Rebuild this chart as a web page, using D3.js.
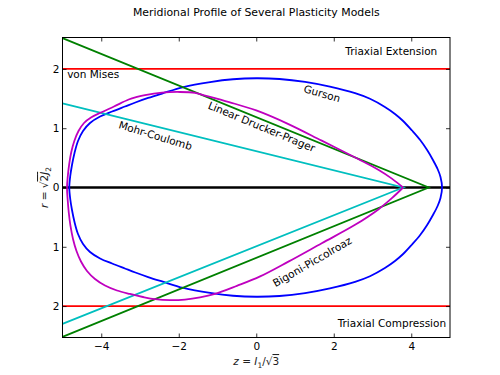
<!DOCTYPE html>
<html>
<head>
<meta charset="utf-8">
<script src="https://cdn.jsdelivr.net/npm/d3@7"></script>
<style>
  html, body { margin: 0; padding: 0; background: #fff; }
  svg { display: block; }
  text { font-family: "DejaVu Sans", sans-serif; }
</style>
</head>
<body>
<script>
// ---------------- data ----------------
const title = "Meridional Profile of Several Plasticity Models";
const xTicks = [-4, -2, 0, 2, 4];
const yTicks = [-2, -1, 0, 1, 2];
const xDomain = [-5, 5];
const yDomain = [-2.53, 2.53];

// Gurson (symmetric about r = 0): upper half, left to right
const gursonZ = [-4.825, -4.80, -4.755, -4.69, -4.60, -4.47, -4.29, -4.03, -3.72, -3.39, -3.12, -2.79, -2.43, -1.88, -1.19, -0.6, 0, 0.6, 1.26, 1.9, 2.55, 2.935, 3.32, 3.58, 3.79, 4.02, 4.23, 4.41, 4.56, 4.68, 4.755, 4.795];
const gursonR = [0, 0.194, 0.38, 0.582, 0.784, 0.953, 1.088, 1.197, 1.282, 1.366, 1.434, 1.51, 1.585, 1.695, 1.779, 1.826, 1.843, 1.83, 1.78, 1.70, 1.59, 1.496, 1.358, 1.24, 1.122, 0.961, 0.801, 0.632, 0.464, 0.312, 0.177, 0];

// Bigoni-Piccolroaz: extension (upper) and compression (lower) branches, left to right
const bpUpperZ = [-4.884, -4.863, -4.827, -4.773, -4.695, -4.587, -4.445, -4.265, -4.006, -3.671, -3.292, -3.077, -2.871, -2.432, -1.968, -1.581, -1.37, -0.7, 0, 0.83, 1.69, 2.63, 3.15, 3.5, 3.79];
const bpUpperR = [0, 0.194, 0.396, 0.599, 0.784, 0.953, 1.088, 1.181, 1.265, 1.366, 1.484, 1.528, 1.560, 1.601, 1.611, 1.597, 1.56, 1.44, 1.30, 1.07, 0.79, 0.48, 0.30, 0.15, 0];
const bpLowerZ = [-4.884, -4.866, -4.837, -4.794, -4.729, -4.639, -4.523, -4.368, -4.161, -3.903, -3.594, -3.258, -2.923, -2.613, -2.226, -1.839, -1.452, -1.065, -0.5, 0.1, 0.83, 1.69, 2.55, 3.15, 3.5, 3.79];
const bpLowerR = [0, -0.211, -0.430, -0.649, -0.868, -1.071, -1.248, -1.408, -1.543, -1.653, -1.737, -1.796, -1.847, -1.884, -1.901, -1.891, -1.855, -1.796, -1.66, -1.50, -1.25, -0.94, -0.63, -0.37, -0.18, 0];

// Linear Drucker-Prager
const dpZ = [-5, 4.45, -5];
const dpR = [2.52, 0, -2.52];
// Mohr-Coulomb
const mcZ = [-5, 3.79, -5];
const mcR = [1.42, 0, -2.30];
// von Mises
const vmR = [2, -2];

// annotations (data coordinates)
const annoText = ["Triaxial Extension", "Triaxial Compression", "von Mises", "Gurson", "Linear Drucker-Prager", "Mohr-Coulomb", "Bigoni-Piccolroaz"];
const annoZ = [4.67, 4.90, -4.88, 1.70, 0.14, -2.6, 1.44];
const annoR = [2.23, -2.35, 1.84, 1.59, 1.03, 0.88, -1.25];

// ---------------- layout ----------------
const W = 500, H = 375;
const m = { left: 62.5, right: 50, top: 37.5, bottom: 37.5 };
const svg = d3.select("body").append("svg").attr("width", W).attr("height", H);

const x = d3.scaleLinear().domain(xDomain).range([m.left, W - m.right]);
const y = d3.scaleLinear().domain(yDomain).range([H - m.bottom, m.top]);

svg.append("defs").append("clipPath").attr("id", "clip")
  .append("rect").attr("x", m.left).attr("y", m.top)
  .attr("width", W - m.left - m.right).attr("height", H - m.top - m.bottom);

const plot = svg.append("g").attr("clip-path", "url(#clip)");
const line = d3.line().x(d => x(d[0])).y(d => y(d[1]));
const closedSmooth = d3.line().x(d => x(d[0])).y(d => y(d[1])).curve(d3.curveCatmullRomClosed.alpha(0.5));
const openSmooth = d3.line().x(d => x(d[0])).y(d => y(d[1])).curve(d3.curveCatmullRom.alpha(0.5));
const lw = 1.8;

// hydrostatic axis
plot.append("path").attr("d", line([[xDomain[0], 0], [xDomain[1], 0]]))
  .attr("stroke", "#000").attr("stroke-width", 2.6).attr("fill", "none");

// von Mises
vmR.forEach(r => {
  plot.append("path").attr("d", line([[xDomain[0], r], [xDomain[1], r]]))
    .attr("stroke", "#ff0000").attr("stroke-width", lw).attr("fill", "none");
});

// Gurson closed curve: upper left->right, lower right->left (ends shared)
const gUp = gursonZ.map((z, i) => [z, gursonR[i]]);
const gDown = gursonZ.map((z, i) => [z, -gursonR[i]]).slice(1, -1).reverse();
plot.append("path").attr("d", closedSmooth(gUp.concat(gDown)))
  .attr("stroke", "#0000ff").attr("stroke-width", lw).attr("fill", "none");

// Drucker-Prager
plot.append("path").attr("d", line(dpZ.map((z, i) => [z, dpR[i]])))
  .attr("stroke", "#008000").attr("stroke-width", lw).attr("fill", "none");

// Mohr-Coulomb
plot.append("path").attr("d", line(mcZ.map((z, i) => [z, mcR[i]])))
  .attr("stroke", "#00bfbf").attr("stroke-width", lw).attr("fill", "none");

// Bigoni-Piccolroaz: apex -> upper branch (leftwards) -> left tip -> lower branch -> apex
const bpUp = bpUpperZ.map((z, i) => [z, bpUpperR[i]]).reverse();
const bpDown = bpLowerZ.map((z, i) => [z, bpLowerR[i]]).slice(1);
plot.append("path").attr("d", openSmooth(bpUp.concat(bpDown)))
  .attr("stroke", "#bf00bf").attr("stroke-width", lw).attr("fill", "none");

// ---------------- axes ----------------
const fmtX = d => (d < 0 ? "\u2212" : "") + Math.abs(d);
const fmtY = d => String(Math.abs(d));
const tk = 4;
const gx = svg.append("g").attr("transform", `translate(0,${H - m.bottom})`)
  .call(d3.axisBottom(x).tickValues(xTicks).tickSize(-tk).tickPadding(5).tickFormat(fmtX));
const gxt = svg.append("g").attr("transform", `translate(0,${m.top})`)
  .call(d3.axisTop(x).tickValues(xTicks).tickSize(-tk).tickFormat(""));
const gy = svg.append("g").attr("transform", `translate(${m.left},0)`)
  .call(d3.axisLeft(y).tickValues(yTicks).tickSize(-tk).tickPadding(3).tickFormat(fmtY));
const gyr = svg.append("g").attr("transform", `translate(${W - m.right},0)`)
  .call(d3.axisRight(y).tickValues(yTicks).tickSize(-tk).tickFormat(""));
[gx, gxt, gy, gyr].forEach(g => {
  g.select(".domain").remove();
  g.selectAll(".tick line").attr("stroke", "#000").attr("stroke-width", 0.8);
  g.selectAll(".tick text").attr("font-family", "DejaVu Sans").attr("font-size", 10.5).attr("fill", "#000");
});

// frame
svg.append("rect").attr("x", m.left).attr("y", m.top)
  .attr("width", W - m.left - m.right).attr("height", H - m.top - m.bottom)
  .attr("fill", "none").attr("stroke", "#000").attr("stroke-width", 1);

// title
svg.append("text").attr("x", (m.left + W - m.right) / 2).attr("y", 15.5)
  .attr("text-anchor", "middle").attr("font-size", 10.9).text(title);

// annotations
const anchors = ["end", "end", "start", "middle", "middle", "middle", "middle"];
const rot = [0, 0, 0, 16, 22.5, 17, -30];
annoText.forEach((t, i) => {
  const px = x(annoZ[i]), py = y(annoR[i]);
  svg.append("text")
    .attr("transform", `translate(${px},${py}) rotate(${rot[i]})`)
    .attr("text-anchor", anchors[i])
    .attr("dominant-baseline", rot[i] === 0 ? "auto" : "central")
    .attr("font-size", 10.5).attr("fill", "#000").text(t);
});

// axis labels (math style)
const xl = svg.append("text").attr("x", x(0)).attr("y", 365)
  .attr("text-anchor", "middle").attr("font-family", "DejaVu Serif").attr("font-size", 10.5).attr("fill", "#222");
xl.append("tspan").attr("font-style", "italic").text("z");
xl.append("tspan").text(" = ");
xl.append("tspan").attr("font-style", "italic").text("I");
xl.append("tspan").attr("font-size", 7.5).attr("dy", 2.5).text("1");
xl.append("tspan").attr("dy", -2.5).text("/\u221A");
xl.append("tspan").attr("text-decoration", "overline").text("3");

const yl = svg.append("text").attr("transform", `translate(48,${y(0)}) rotate(-90)`)
  .attr("text-anchor", "middle").attr("font-family", "DejaVu Serif").attr("font-size", 10.5).attr("fill", "#222");
yl.append("tspan").attr("font-style", "italic").text("r");
yl.append("tspan").text(" = \u221A");
yl.append("tspan").attr("text-decoration", "overline").text("2");
yl.append("tspan").attr("font-style", "italic").attr("text-decoration", "overline").text("J");
yl.append("tspan").attr("font-size", 7.5).attr("dy", 2.5).text("2");
</script>
</body>
</html>
